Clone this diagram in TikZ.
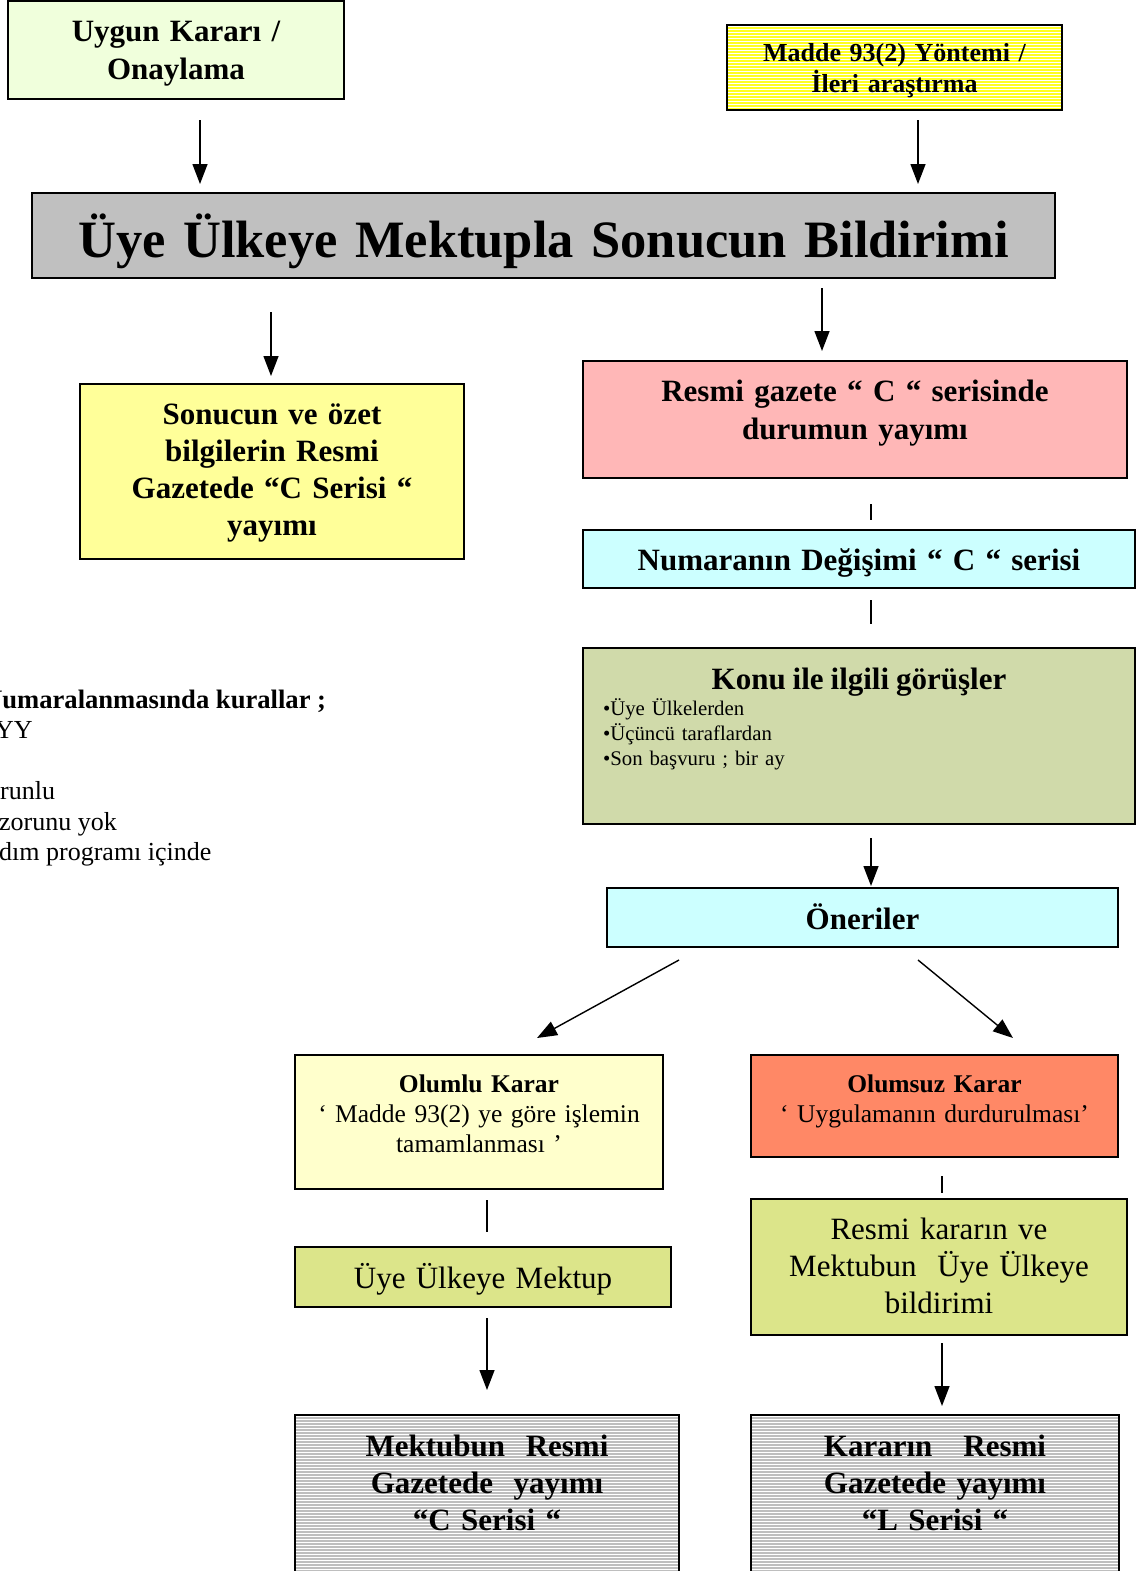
\documentclass[tikz,border=0pt]{standalone}
\usepackage{fontspec}
\setmainfont{Liberation Serif}
\usetikzlibrary{arrows.meta}
\definecolor{cUygun}{HTML}{F0FFDC}
\definecolor{cMadde}{HTML}{FFFF22}
\definecolor{cTitle}{HTML}{C0C0C0}
\definecolor{cSonuc}{HTML}{FFFF99}
\definecolor{cResmi}{HTML}{FFB7B7}
\definecolor{cCyan}{HTML}{CCFFFF}
\definecolor{cKonu}{HTML}{D0DAAA}
\definecolor{cOlumlu}{HTML}{FFFFCC}
\definecolor{cOlumsuz}{HTML}{FF8866}
\definecolor{cGreen}{HTML}{DCE58A}
\definecolor{cGray}{HTML}{BEBEBE}
\newcommand{\myTitle}{\fontsize{52.5}{60}\selectfont\bfseries}
\newcommand{\myBigB}{\fontsize{31}{38}\selectfont\bfseries}
\newcommand{\myBigBs}{\fontsize{31}{37}\selectfont\bfseries}
\newcommand{\myBigR}{\fontsize{31}{37}\selectfont}
\newcommand{\myMadde}{\fontsize{26}{31}\selectfont\bfseries}
\newcommand{\myMid}{\fontsize{25.5}{30}\selectfont}
\newcommand{\mySmall}{\fontsize{20.8}{25}\selectfont}
\newcommand{\myLeft}{\fontsize{26}{30.5}\selectfont}
\tikzset{
  box/.style={draw=black, line width=1.3pt, rectangle, inner sep=0pt, align=center},
  yStripes/.style={path picture={\foreach \k in {0,...,40}{\draw[white,line width=0.9pt] ([yshift={-\k*3pt-1.5pt}]path picture bounding box.north west) -- ([yshift={-\k*3pt-1.5pt}]path picture bounding box.north east);}}},
  gStripes/.style={path picture={\foreach \k in {0,...,70}{\draw[white,line width=0.8pt] ([yshift={-\k*3pt-1.5pt}]path picture bounding box.north west) -- ([yshift={-\k*3pt-1.5pt}]path picture bounding box.north east);}}},
  arr/.style={line width=1.4pt, -{Triangle[length=20pt,width=15pt]}},
  ln/.style={line width=1.3pt},
  lefttext/.style={anchor=base west, inner sep=0pt, font=\myLeft}
}
\begin{document}
\begin{tikzpicture}[x=1pt,y=-1pt]
\useasboundingbox (0,0) rectangle (1143,1571);
\clip (0,0) rectangle (1143,1571);

% top boxes
\node[box, fill=cUygun, minimum width=336, minimum height=98, text width=326, text height=0pt, text depth=16pt, font=\myBigB] (uygun) at (176,50) {Uygun Kararı /\\Onaylama};
\node[box, fill=cMadde, yStripes, minimum width=335, minimum height=85, text width=325, text height=0pt, text depth=12pt, font=\myMadde] (madde) at (894.5,67.5) {Madde 93(2) Yöntemi /\\İleri araştırma};

\node[box, fill=cTitle, minimum width=1023, minimum height=85, text width=1013, text height=43pt, text depth=0pt, font=\myTitle] (title) at (543.5,235.5) {Üye Ülkeye Mektupla Sonucun Bildirimi};

\node[box, fill=cSonuc, minimum width=384, minimum height=175, text width=374, text height=0pt, text depth=95pt, font=\myBigBs] (sonuc) at (272,471.5) {Sonucun ve özet\\bilgilerin Resmi\\Gazetede “C Serisi “\\yayımı};
\node[box, fill=cResmi, minimum width=544, minimum height=117, text width=534, text height=0pt, text depth=37pt, font=\myBigB] (resmi) at (855,419.5) {Resmi gazete “ C “ serisinde\\durumun yayımı};
\node[box, fill=cCyan, minimum width=552, minimum height=58, text width=542, text height=22pt, text depth=0pt, font=\myBigB] (numara) at (859,559) {Numaranın Değişimi “ C “ serisi};
\node[box, fill=cKonu, minimum width=552, minimum height=176, text width=512, text height=0pt, text depth=94pt, align=left, font=\mySmall] (konu) at (859,736) {\makebox[\linewidth]{\myBigB Konu ile ilgili görüşler}\\[1pt]•Üye Ülkelerden\\•Üçüncü taraflardan\\•Son başvuru ; bir ay};
\node[box, fill=cCyan, minimum width=511, minimum height=59, text width=501, text height=23pt, text depth=0pt, font=\myBigB] (oneri) at (862.5,917.5) {Öneriler};

\node[box, fill=cOlumlu, minimum width=368, minimum height=134, text width=358, text height=0pt, text depth=60pt, font=\myMid] (olumlu) at (479,1122) {{\bfseries Olumlu Karar}\\‘ Madde 93(2) ye göre işlemin\\tamamlanması ’};
\node[box, fill=cOlumsuz, minimum width=367, minimum height=102, text width=357, text height=0pt, text depth=28pt, font=\myMid] (olumsuz) at (934.5,1106) {{\bfseries Olumsuz Karar}\\‘ Uygulamanın durdurulması’};

\node[box, fill=cGreen, minimum width=376, minimum height=60, text width=366, text height=22pt, text depth=0pt, font=\myBigR] (mektup) at (483,1277) {Üye Ülkeye Mektup};
\node[box, fill=cGreen, minimum width=376, minimum height=136, text width=366, text height=0pt, text depth=56pt, font=\myBigR] (karar) at (939,1267) {Resmi kararın ve\\Mektubun~~Üye Ülkeye\\bildirimi};

\node[box, fill=cGray, gStripes, minimum width=384, minimum height=185, text width=374, text height=0pt, text depth=103pt, font=\myBigBs] (mresmi) at (487,1507.5) {Mektubun~~Resmi\\Gazetede~~yayımı\\“C Serisi “};
\node[box, fill=cGray, gStripes, minimum width=368, minimum height=185, text width=358, text height=0pt, text depth=103pt, font=\myBigBs] (kresmi) at (935,1507.5) {Kararın~~~Resmi\\Gazetede yayımı\\“L Serisi “};

% left text
\node[lefttext, font=\fontsize{26.6}{30.5}\selectfont\bfseries] (kural) at (-17,708) {Numaralanmasında kurallar ;};
\node[lefttext] (k1) at (-5,738) {YY};
\node[lefttext] (k2) at (0,799) {runlu};
\node[lefttext] (k3) at (-1,830) {zorunu yok};
\node[lefttext] (k4) at (-1,860) {dım programı içinde};

% connector ends
\coordinate (a1s) at (200,120); \coordinate (a1e) at (200,184);
\coordinate (a2s) at (918,120); \coordinate (a2e) at (918,184);
\coordinate (a3s) at (271,312); \coordinate (a3e) at (271,376);
\coordinate (a4s) at (822,288); \coordinate (a4e) at (822,351);
\coordinate (l1s) at (871,504); \coordinate (l1e) at (871,520);
\coordinate (l2s) at (871,600); \coordinate (l2e) at (871,624);
\coordinate (a5s) at (871,838); \coordinate (a5e) at (871,886);
\coordinate (a6s) at (679,960); \coordinate (a6e) at (537,1038);
\coordinate (a7s) at (918,960); \coordinate (a7e) at (1013,1038);
\coordinate (l3s) at (487,1200); \coordinate (l3e) at (487,1232);
\coordinate (l4s) at (942,1176); \coordinate (l4e) at (942,1193);
\coordinate (a8s) at (487,1318); \coordinate (a8e) at (487,1390);
\coordinate (a9s) at (942,1343); \coordinate (a9e) at (942,1406);

\draw[arr] (a1s) -- (a1e);
\draw[arr] (a2s) -- (a2e);
\draw[arr] (a3s) -- (a3e);
\draw[arr] (a4s) -- (a4e);
\draw[ln] (l1s) -- (l1e);
\draw[ln] (l2s) -- (l2e);
\draw[arr] (a5s) -- (a5e);
\draw[arr] (a6s) -- (a6e);
\draw[arr] (a7s) -- (a7e);
\draw[ln] (l3s) -- (l3e);
\draw[ln] (l4s) -- (l4e);
\draw[arr] (a8s) -- (a8e);
\draw[arr] (a9s) -- (a9e);
\end{tikzpicture}
\end{document}
